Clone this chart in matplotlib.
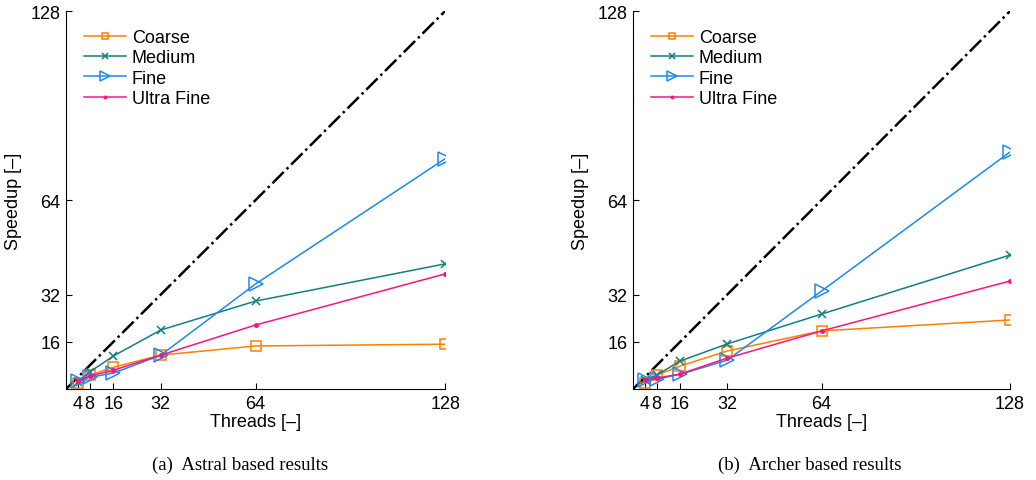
import matplotlib.pyplot as plt

plt.rcParams['font.family'] = ['Liberation Sans', 'DejaVu Sans']

threads = [4, 8, 16, 32, 64, 128]
xticks = [4, 8, 16, 32, 64, 128]
yticks = [16, 32, 64, 128]

# Astral based results
astral_coarse = [2.0, 4.7, 7.4, 11.5, 14.6, 15.2]
astral_medium = [2.4, 5.8, 11.2, 20.0, 29.8, 42.4]
astral_fine = [2.7, 4.0, 5.4, 11.5, 35.6, 78.0]
astral_ultra = [2.7, 4.4, 6.4, 11.5, 21.7, 39.0]

# Archer based results
archer_coarse = [2.0, 4.7, 7.8, 12.9, 19.7, 23.4]
archer_medium = [3.0, 4.7, 9.5, 15.3, 25.4, 45.4]
archer_fine = [3.0, 3.4, 5.0, 9.8, 33.2, 80.3]
archer_ultra = [3.0, 3.7, 5.1, 10.5, 19.7, 36.6]

names = ['Coarse', 'Medium', 'Fine', 'Ultra Fine']
colors = ['#FF8000', '#108080', '#1E88F0', '#FF1480']
markers = ['s', 'x', '>', '.']
msizes = [7, 6, 10, 5]

fig = plt.figure(figsize=(10.36, 4.81), dpi=100)
ax1 = fig.add_axes([0.0637, 0.189, 0.366, 0.786])
ax2 = fig.add_axes([0.611, 0.189, 0.364, 0.786])

panels = [
    (ax1, [astral_coarse, astral_medium, astral_fine, astral_ultra], '(a)  Astral based results', 0.232),
    (ax2, [archer_coarse, archer_medium, archer_fine, archer_ultra], '(b)  Archer based results', 0.782),
]

for ax, series, caption, cx in panels:
    ax.plot([0, 128], [0, 128], color='black', linestyle='-.', linewidth=1.8, zorder=1)
    for vals, name, c, m, ms in zip(series, names, colors, markers, msizes):
        ax.plot(threads, vals, color=c, marker=m, markersize=ms, linewidth=1.1,
                markerfacecolor='none' if m in ('s', '>') else c,
                markeredgewidth=1.1, label=name, zorder=2)
    ax.set_xlim(0, 128)
    ax.set_ylim(0, 128)
    ax.set_xticks(xticks)
    ax.set_yticks(yticks)
    ax.tick_params(direction='in', length=4, labelsize=13, pad=4)
    ax.spines['top'].set_visible(False)
    ax.spines['right'].set_visible(False)
    ax.set_xlabel('Threads [–]', fontsize=13, labelpad=1)
    ax.set_ylabel('Speedup [–]', fontsize=13, labelpad=6)
    ax.legend(loc='upper left', frameon=False, fontsize=13, handlelength=2.3,
              handletextpad=0.35, markerscale=0.7, labelspacing=0.18,
              borderaxespad=0.6, bbox_to_anchor=(0.0, 1.0))
    fig.text(cx, 0.033, caption, ha='center', va='center',
             fontsize=13.5, family=['Liberation Serif', 'DejaVu Serif'])

fig.savefig('out.png', dpi=100)
